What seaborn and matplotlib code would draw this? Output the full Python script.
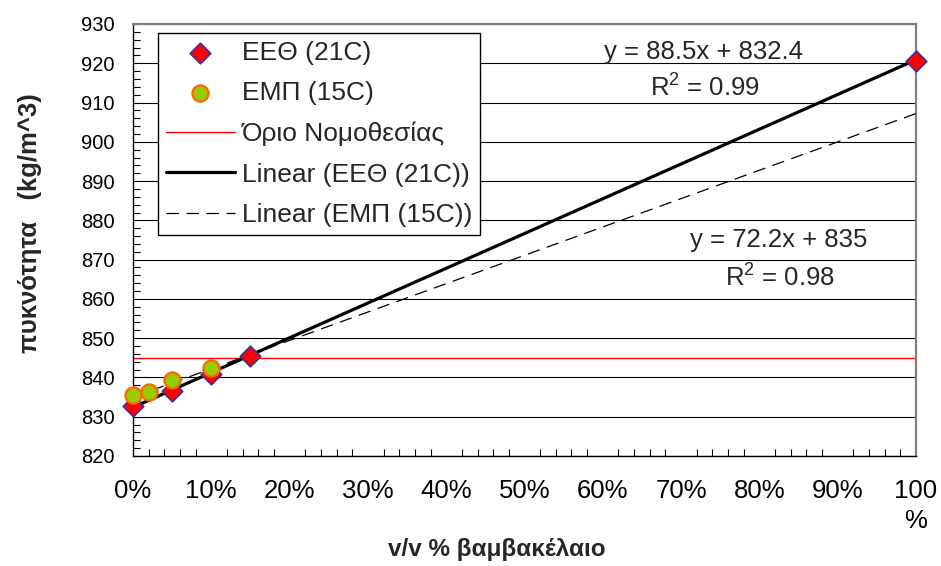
import numpy as np
import pandas as pd
import matplotlib
matplotlib.use("Agg")
import matplotlib.pyplot as plt
from matplotlib.ticker import MultipleLocator
import seaborn as sns

# ---- data ----
eeth_x = [0.0, 0.05, 0.10, 0.15, 1.00]
eeth_y = [832.8, 836.6, 840.9, 845.4, 920.5]
emp_x = [0.0, 0.02, 0.05, 0.10]
emp_y = [835.5, 836.4, 839.3, 842.4]
limit_value = 845
eeth_fit = (88.5, 832.4)   # slope, intercept
emp_fit = (72.2, 835.0)
fit_x = [0.0, 1.0]
y_ticks = [820, 830, 840, 850, 860, 870, 880, 890, 900, 910, 920, 930]
x_ticks = [0.0, 0.1, 0.2, 0.3, 0.4, 0.5, 0.6, 0.7, 0.8, 0.9, 1.0]
x_tick_labels = ["0%", "10%", "20%", "30%", "40%", "50%", "60%", "70%", "80%", "90%", "100\n%"]
lbl_eeth = "ΕΕΘ (21C)"
lbl_emp = "ΕΜΠ (15C)"
lbl_limit = "Όριο Νομοθεσίας"
lbl_lin_eeth = "Linear (ΕΕΘ (21C))"
lbl_lin_emp = "Linear (ΕΜΠ (15C))"
eq_eeth = ["y = 88.5x + 832.4", "R$^2$ = 0.99"]
eq_emp = ["y = 72.2x + 835", "R$^2$ = 0.98"]
x_label = "v/v % βαμβακέλαιο"
y_label = "πυκνότητα   (kg/m^3)"

sns.set_style("white")
plt.rcParams['font.family'] = ['Liberation Sans', 'DejaVu Sans']
plt.rcParams['mathtext.default'] = 'regular'

fig = plt.figure(figsize=(9.41, 5.66), dpi=100)
ax = fig.add_axes([133/941, 1-456/566, 783/941, 432/566])

df_eeth = pd.DataFrame({"x": eeth_x, "y": eeth_y})
df_emp = pd.DataFrame({"x": emp_x, "y": emp_y})
fx = np.array(fit_x)
df_fit1 = pd.DataFrame({"x": fx, "y": eeth_fit[0]*fx + eeth_fit[1]})
df_fit2 = pd.DataFrame({"x": fx, "y": emp_fit[0]*fx + emp_fit[1]})

ax.axhline(limit_value, color="#ff0000", lw=1.0, zorder=2, label=lbl_limit)
sns.lineplot(data=df_fit2, x="x", y="y", ax=ax, color="black", lw=0.9,
             linestyle=(0, (10, 6)), label=lbl_lin_emp, zorder=3)
sns.lineplot(data=df_fit1, x="x", y="y", ax=ax, color="black", lw=2.3,
             label=lbl_lin_eeth, zorder=3)
sns.scatterplot(data=df_eeth, x="x", y="y", ax=ax, marker="D", s=110,
                color="#ff0000", edgecolor="#333399", linewidth=1.2,
                label=lbl_eeth, zorder=4, clip_on=False)
sns.scatterplot(data=df_emp, x="x", y="y", ax=ax, marker="o", s=135,
                color="#99cc00", edgecolor="#ff6600", linewidth=1.6,
                label=lbl_emp, zorder=5, clip_on=False)

ax.set_xlim(0, 1)
ax.set_ylim(820, 930)
ax.set_yticks(y_ticks)
ax.set_xticks(x_ticks)
ax.set_xticklabels(x_tick_labels, fontsize=18.5, linespacing=1.3)
ax.set_yticklabels([str(v) for v in y_ticks], fontsize=14.5)
ax.xaxis.set_minor_locator(MultipleLocator(0.02))
ax.yaxis.set_minor_locator(MultipleLocator(2))
ax.tick_params(axis="x", which="major", direction="inout", length=11, width=1,
               pad=11, colors="black")
ax.tick_params(axis="y", which="major", direction="inout", length=12, width=1,
               pad=7, colors="black")
ax.tick_params(which="minor", direction="in", length=5, width=0.8, colors="black")
ax.tick_params(axis="x", which="minor", bottom=True)
ax.tick_params(axis="y", which="minor", left=True)

ax.yaxis.grid(True, color="black", lw=0.8)
ax.xaxis.grid(False)
for s in ["left", "bottom"]:
    ax.spines[s].set_color("black")
    ax.spines[s].set_linewidth(1.0)
for s in ["top", "right"]:
    ax.spines[s].set_color("#808080")
    ax.spines[s].set_linewidth(1.6)
    ax.spines[s].set_visible(True)
ax.set_facecolor("white")

ax.set_xlabel(x_label, fontsize=17.5, fontweight="bold")
ax.set_ylabel(y_label, fontsize=18.5, fontweight="bold")
ax.xaxis.set_label_coords(0.465, -0.19)
ax.yaxis.set_label_coords(-0.116, 0.54)

ax.text(0.728, 922.9, eq_eeth[0], ha="center", va="center", fontsize=18.5)
ax.text(0.730, 913.7, eq_eeth[1], ha="center", va="center", fontsize=18.5)
ax.text(0.824, 875.0, eq_emp[0], ha="center", va="center", fontsize=18.5)
ax.text(0.826, 865.3, eq_emp[1], ha="center", va="center", fontsize=18.5)

handles, labels = ax.get_legend_handles_labels()
order = [lbl_eeth, lbl_emp, lbl_limit, lbl_lin_eeth, lbl_lin_emp]
hmap = dict(zip(labels, handles))
leg = ax.legend([hmap[l] for l in order], order, loc="upper left",
                bbox_to_anchor=(0.032, 0.979), borderaxespad=0, fontsize=19,
                frameon=True, fancybox=False, edgecolor="black", framealpha=1,
                handlelength=2.6, handletextpad=0.27, labelspacing=0.62,
                borderpad=0.3)
leg.get_frame().set_linewidth(1.0)
leg.set_zorder(6)

fig.savefig("out.png", dpi=100)
